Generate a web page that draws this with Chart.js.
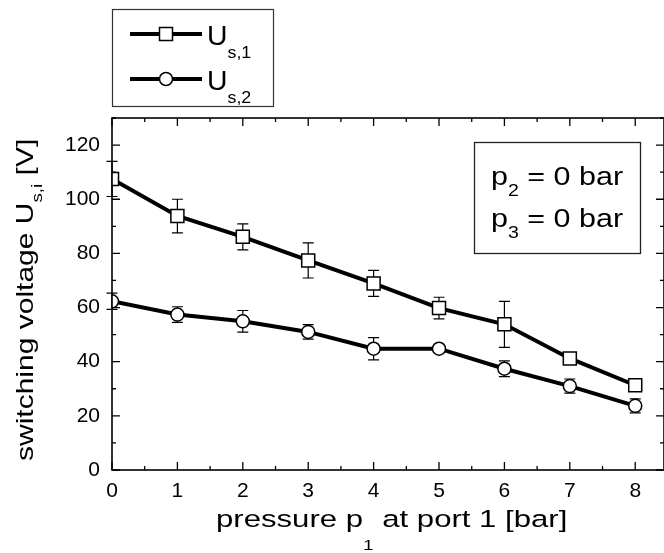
<!DOCTYPE html>
<html>
<head>
<meta charset="utf-8">
<script src="https://cdn.jsdelivr.net/npm/chart.js@4"></script>
<style>
  html, body { margin: 0; padding: 0; background: #fff; overflow: hidden; }
  #wrap { width: 664px; height: 553px; overflow: hidden; }
</style>
</head>
<body>
<div id="wrap"><canvas id="c" width="664" height="553"></canvas></div>
<script>
// ---- data ----
const pressures = [0, 1, 2, 3, 4, 5, 6, 7, 8];
const us1 = [107.5, 93.8, 86.1, 77.4, 68.9, 59.8, 53.8, 41.2, 31.3];
const us1Err = [6.5, 6.2, 4.8, 6.5, 4.8, 4.0, 8.5, 1.0, 1.0];
const us2 = [62.3, 57.4, 54.9, 51.0, 44.8, 44.8, 37.4, 31.0, 23.7];
const us2Err = [3.0, 2.9, 4.0, 2.7, 4.1, 0.8, 2.9, 2.6, 2.6];
const xTickLabels = [0, 1, 2, 3, 4, 5, 6, 7, 8];
const yTickLabels = [0, 20, 40, 60, 80, 100, 120];
const xMinorTicks = [0.5, 1.5, 2.5, 3.5, 4.5, 5.5, 6.5, 7.5];
const yMinorTicks = [10, 30, 50, 70, 90, 110, 130];

const FONT = '"Liberation Sans", Arial, Helvetica, sans-serif';

function drawRich(ctx, parts, x, y, stretch) {
  stretch = stretch || 1;
  ctx.save();
  ctx.translate(x, y);
  ctx.scale(stretch, 1);
  ctx.textBaseline = 'alphabetic';
  ctx.textAlign = 'left';
  let cx = 0;
  parts.forEach(p => {
    ctx.font = p.size + 'px ' + FONT;
    ctx.fillText(p.t, cx, p.dy || 0);
    cx += ctx.measureText(p.t).width;
  });
  ctx.restore();
}

const decor = {
  id: 'decor',
  beforeDatasetsDraw(chart) {
    const ctx = chart.ctx;
    const xs = chart.scales.x, ys = chart.scales.y;
    ctx.save();
    ctx.strokeStyle = '#000';
    ctx.lineWidth = 1.2;
    const cap = 5.5;
    [[us1, us1Err], [us2, us2Err]].forEach(([vals, errs]) => {
      vals.forEach((v, i) => {
        const px = xs.getPixelForValue(pressures[i]);
        const top = ys.getPixelForValue(v + errs[i]);
        const bot = ys.getPixelForValue(v - errs[i]);
        ctx.beginPath();
        ctx.moveTo(px, top); ctx.lineTo(px, bot);
        ctx.moveTo(px - cap, top); ctx.lineTo(px + cap, top);
        ctx.moveTo(px - cap, bot); ctx.lineTo(px + cap, bot);
        ctx.stroke();
      });
    });
    ctx.restore();
  },
  afterDraw(chart) {
    const ctx = chart.ctx;
    const a = chart.chartArea;
    const xs = chart.scales.x, ys = chart.scales.y;
    ctx.save();
    ctx.strokeStyle = '#000';
    ctx.lineWidth = 1.6;
    ctx.strokeRect(a.left, a.top, a.right - a.left, a.bottom - a.top);
    ctx.lineWidth = 1.3;
    ctx.beginPath();
    xTickLabels.forEach(v => {
      const p = xs.getPixelForValue(v);
      ctx.moveTo(p, a.bottom); ctx.lineTo(p, a.bottom - 8);
      ctx.moveTo(p, a.top); ctx.lineTo(p, a.top + 8);
    });
    xMinorTicks.forEach(v => {
      const p = xs.getPixelForValue(v);
      ctx.moveTo(p, a.bottom); ctx.lineTo(p, a.bottom - 4);
      ctx.moveTo(p, a.top); ctx.lineTo(p, a.top + 4);
    });
    yTickLabels.forEach(v => {
      const p = ys.getPixelForValue(v);
      ctx.moveTo(a.left, p); ctx.lineTo(a.left + 8, p);
      ctx.moveTo(a.right, p); ctx.lineTo(a.right - 8, p);
    });
    yMinorTicks.forEach(v => {
      const p = ys.getPixelForValue(v);
      ctx.moveTo(a.left, p); ctx.lineTo(a.left + 4, p);
      ctx.moveTo(a.right, p); ctx.lineTo(a.right - 4, p);
    });
    ctx.stroke();

    ctx.fillStyle = '#000';
    // x-axis title
    drawRich(ctx, [
      {t: 'pressure p', size: 24.5},
      {t: '1', size: 15, dy: 23},
      {t: ' at port 1 [bar]', size: 24.5}
    ], 216, 527, 1.27);

    // y-axis title
    ctx.save();
    ctx.translate(33, 461);
    ctx.rotate(-Math.PI / 2);
    drawRich(ctx, [
      {t: 'switching voltage U', size: 24},
      {t: 's,i', size: 15, dy: 9},
      {t: ' [V]', size: 24}
    ], 0, 0, 1.25);
    ctx.restore();

    // annotation box
    ctx.lineWidth = 1.3;
    ctx.strokeStyle = '#222';
    ctx.strokeRect(474.5, 142.5, 166, 111);
    drawRich(ctx, [
      {t: 'p', size: 25}, {t: '2', size: 16, dy: 11}, {t: ' = 0 bar', size: 25}
    ], 491, 185, 1.22);
    drawRich(ctx, [
      {t: 'p', size: 25}, {t: '3', size: 16, dy: 11}, {t: ' = 0 bar', size: 25}
    ], 491, 227, 1.22);

    // legend box
    ctx.strokeStyle = '#333';
    ctx.lineWidth = 1.2;
    ctx.strokeRect(112.5, 9.5, 161, 97);
    const rows = [{y: 34, style: 'rect', sub: 's,1'}, {y: 79, style: 'circle', sub: 's,2'}];
    rows.forEach(r => {
      ctx.strokeStyle = '#000';
      ctx.lineWidth = 4;
      ctx.beginPath();
      ctx.moveTo(130, r.y); ctx.lineTo(202, r.y);
      ctx.stroke();
      ctx.lineWidth = 1.5;
      ctx.fillStyle = '#fff';
      ctx.beginPath();
      if (r.style === 'rect') ctx.rect(159.5, r.y - 6.5, 13, 13);
      else ctx.arc(166, r.y, 6.5, 0, Math.PI * 2);
      ctx.fill(); ctx.stroke();
      ctx.fillStyle = '#000';
      drawRich(ctx, [{t: 'U', size: 27}, {t: r.sub, size: 17, dy: 13}], 207, r.y + 11, 1.05);
    });
    ctx.restore();
  }
};

new Chart(document.getElementById('c'), {
  type: 'line',
  data: {
    datasets: [
      {
        label: 'U_s,1',
        data: pressures.map((p, i) => ({x: p, y: us1[i]})),
        borderColor: '#000', borderWidth: 4,
        pointStyle: 'rect', pointRadius: 9.2, pointBorderWidth: 1.5,
        pointBackgroundColor: '#fff', pointBorderColor: '#000',
        tension: 0
      },
      {
        label: 'U_s,2',
        data: pressures.map((p, i) => ({x: p, y: us2[i]})),
        borderColor: '#000', borderWidth: 4,
        pointStyle: 'circle', pointRadius: 6.5, pointBorderWidth: 1.5,
        pointBackgroundColor: '#fff', pointBorderColor: '#000',
        tension: 0
      }
    ]
  },
  options: {
    responsive: false,
    animation: false,
    devicePixelRatio: 1,
    layout: { autoPadding: false, padding: { top: 118, right: -3, left: 0, bottom: 0 } },
    plugins: { legend: { display: false }, tooltip: { enabled: false } },
    scales: {
      x: {
        type: 'linear', min: 0, max: 8.44,
        afterBuildTicks: s => { s.ticks = xTickLabels.map(v => ({value: v})); },
        afterFit: s => { s.height = 83; s.paddingLeft = 0; s.paddingRight = 0; },
        grid: { display: false, drawTicks: false },
        border: { display: false },
        ticks: { color: '#000', font: { family: FONT, size: 21 }, padding: 9, maxRotation: 0 }
      },
      y: {
        type: 'linear', min: 0, max: 130,
        afterBuildTicks: s => { s.ticks = yTickLabels.map(v => ({value: v})); },
        afterFit: s => { s.width = 112; s.paddingTop = 0; s.paddingBottom = 0; },
        grid: { display: false, drawTicks: false },
        border: { display: false },
        ticks: { color: '#000', font: { family: FONT, size: 21 }, padding: 12 }
      }
    }
  },
  plugins: [decor]
});
</script>
</body>
</html>
